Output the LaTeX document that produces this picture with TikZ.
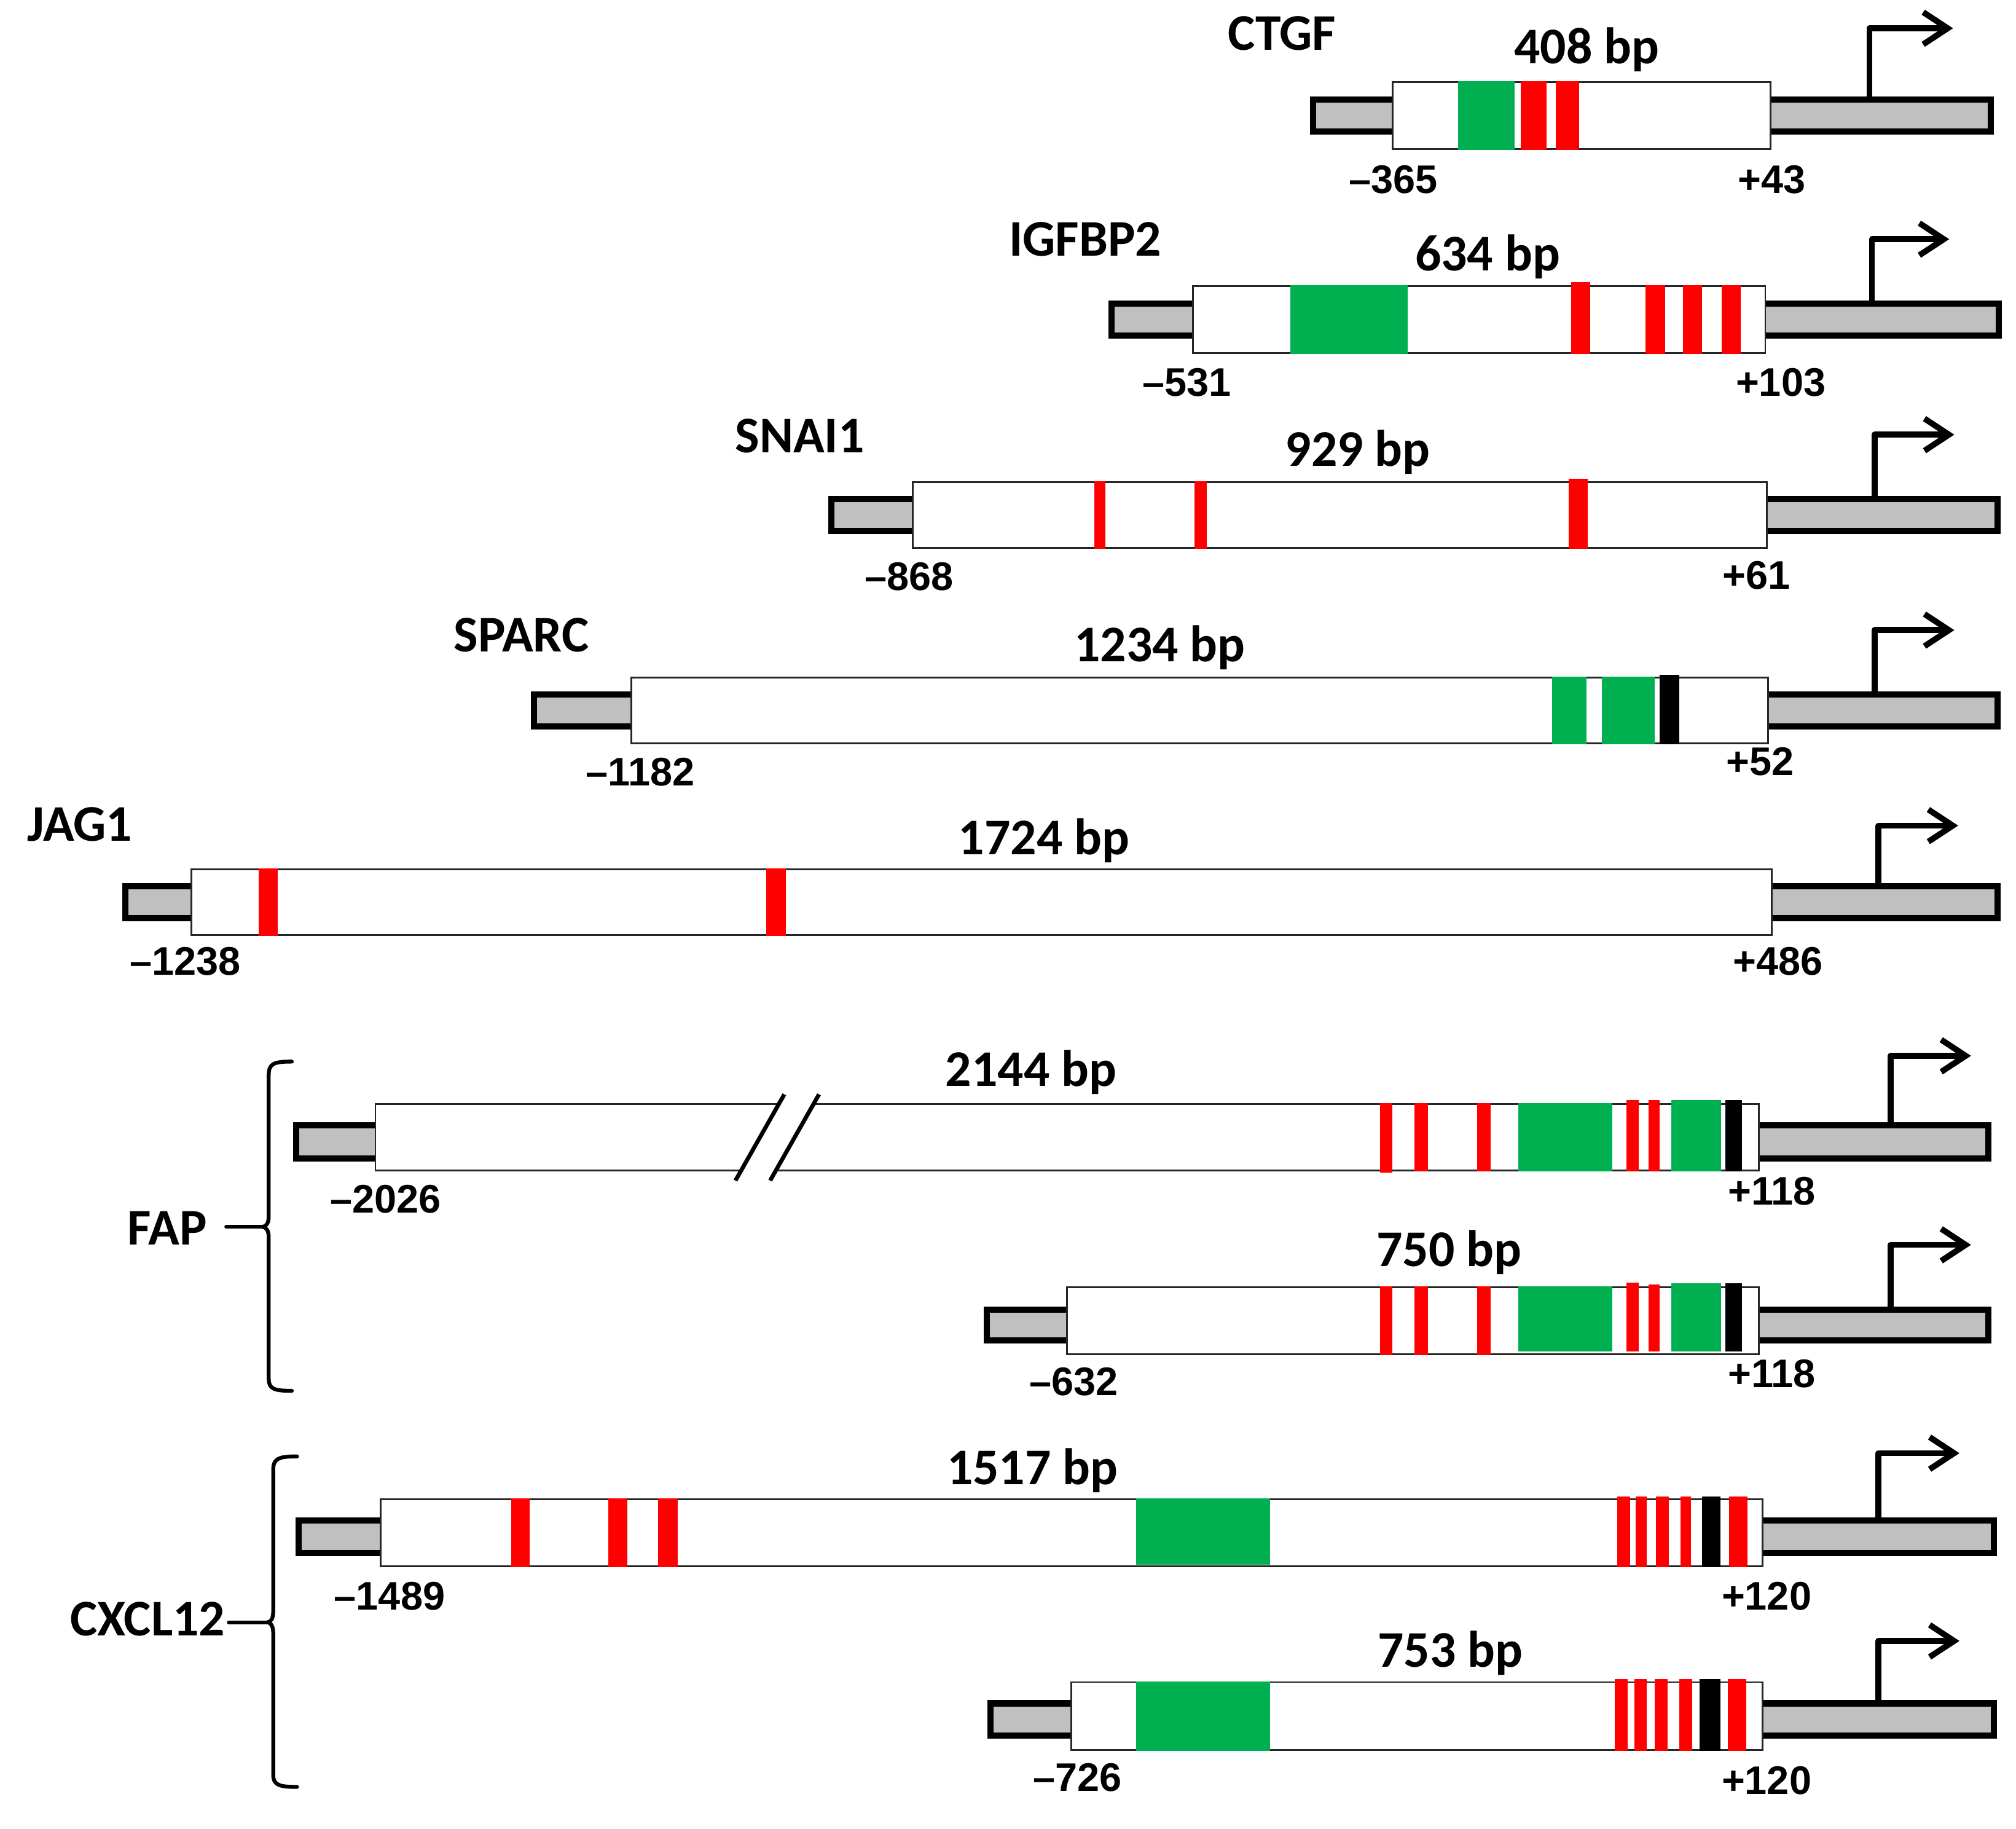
\documentclass[tikz,border=0pt]{standalone}
\usepackage{fontspec}
\newfontfamily\calfont{Carlito}
\newfontfamily\arifont{Liberation Sans}
\usetikzlibrary{arrows.meta}
\definecolor{ggreen}{RGB}{0,176,80}
\definecolor{rred}{RGB}{255,0,0}
\definecolor{bgray}{RGB}{192,192,192}
\begin{document}
\begin{tikzpicture}[x=0.5pt,y=-0.5pt,
  graybar/.style={draw=black,fill=bgray,line width=2.4pt},
  pbox/.style={draw=black!85,fill=white,line width=0.7pt},
  redmark/.style={fill=rred},
  greenmark/.style={fill=ggreen},
  blackmark/.style={fill=black},
  tss/.style={line width=2.3pt,line join=round,-{Straight Barb[length=9.5pt,width=12.5pt]}},
  gname/.style={font=\calfont\bfseries\fontsize{20}{24}\selectfont,anchor=base,inner sep=0pt},
  bplab/.style={font=\calfont\bfseries\fontsize{20}{24}\selectfont,anchor=base,inner sep=0pt},
  poslab/.style={font=\arifont\bfseries\fontsize{15.5}{18}\selectfont,anchor=base,inner sep=0pt},
  brace/.style={line width=1.5pt,line join=round,line cap=round},
  slash/.style={line width=1.6pt}]
\useasboundingbox (0,0) rectangle (1568,1422);

% ---------- CTGF ----------
\draw[graybar] (1021.4,77.5) rectangle (1548.6,102.5);
\draw[pbox] (1083,64) rectangle (1377,116);
\fill[greenmark] (1134,63.3) rectangle (1178,116.7);
\fill[redmark] (1183,63.3) rectangle (1203,116.7);
\fill[redmark] (1210,63.3) rectangle (1228,116.7);
\coordinate (ctgfS) at (1454,77.5);
\coordinate (ctgfT) at (1519,22);
\draw[tss] (ctgfS) |- (ctgfT);
\node[gname] (ctgf) at (997,39) {CTGF};
\node[bplab] (ctgfbp) at (1234,49.5) {408 bp};
\node[poslab] (ctgfl) at (1083.6,150.5) {–365};
\node[poslab] (ctgfr) at (1378,150.5) {+43};

% ---------- IGFBP2 ----------
\draw[graybar] (864.4,236) rectangle (1554.6,261);
\draw[pbox] (928,222.5) rectangle (1373,274.5);
\fill[greenmark] (1003.5,221.8) rectangle (1095,275.2);
\fill[redmark] (1222,219.5) rectangle (1237,275.2);
\fill[redmark] (1280,221.8) rectangle (1295,275.2);
\fill[redmark] (1309,221.8) rectangle (1324,275.2);
\fill[redmark] (1339,221.8) rectangle (1354,275.2);
\coordinate (igfS) at (1456,236);
\coordinate (igfT) at (1516,186);
\draw[tss] (igfS) |- (igfT);
\node[gname] (igf) at (844,199) {IGFBP2};
\node[bplab] (igfbp) at (1157,210.5) {634 bp};
\node[poslab] (igfl) at (923,308) {–531};
\node[poslab] (igfr) at (1385,308) {+103};

% ---------- SNAI1 ----------
\draw[graybar] (646.4,388) rectangle (1553.6,413);
\draw[pbox] (710,375) rectangle (1374,426);
\fill[redmark] (851,374.3) rectangle (859.5,426.7);
\fill[redmark] (929,374.3) rectangle (938.5,426.7);
\fill[redmark] (1220,372.5) rectangle (1235,426.7);
\coordinate (snaS) at (1458,388);
\coordinate (snaT) at (1520,338);
\draw[tss] (snaS) |- (snaT);
\node[gname] (sna) at (622,352) {SNAI1};
\node[bplab] (snabp) at (1056,362.5) {929 bp};
\node[poslab] (snal) at (707,459) {–868};
\node[poslab] (snar) at (1366,458) {+61};

% ---------- SPARC ----------
\draw[graybar] (415.4,540) rectangle (1553.6,565);
\draw[pbox] (491,527) rectangle (1375,578);
\fill[greenmark] (1207,526.3) rectangle (1234,578.7);
\fill[greenmark] (1246,526.3) rectangle (1287,578.7);
\fill[blackmark] (1291,524.5) rectangle (1306,578.7);
\coordinate (spaS) at (1458,540);
\coordinate (spaT) at (1520,490);
\draw[tss] (spaS) |- (spaT);
\node[gname] (spa) at (405.6,506.6) {SPARC};
\node[bplab] (spabp) at (902,514.5) {1234 bp};
\node[poslab] (spal) at (498,610.8) {–1182};
\node[poslab] (spar) at (1369,603) {+52};

% ---------- JAG1 ----------
\draw[graybar] (97.4,689) rectangle (1553.6,714);
\draw[pbox] (149,676) rectangle (1378,727);
\fill[redmark] (201,675.3) rectangle (216,727.7);
\fill[redmark] (596,675.3) rectangle (611,727.7);
\coordinate (jagS) at (1461,689);
\coordinate (jagT) at (1523,642);
\draw[tss] (jagS) |- (jagT);
\node[gname] (jag) at (62,654) {JAG1};
\node[bplab] (jagbp) at (812,664.5) {1724 bp};
\node[poslab] (jagl) at (144,758) {–1238};
\node[poslab] (jagr) at (1383,758) {+486};

% ---------- FAP (long) ----------
\draw[graybar] (230.4,875) rectangle (1546.6,901);
\draw[pbox] (292,858.5) rectangle (1368,910);
\fill[white] (575.4,912) -- (607.2,856) -- (634.2,856) -- (602.4,912) -- cycle;
\coordinate (sl1a) at (572,918); \coordinate (sl1b) at (610,851);
\coordinate (sl2a) at (599,918); \coordinate (sl2b) at (637,851);
\draw[slash] (sl1a) -- (sl1b);
\draw[slash] (sl2a) -- (sl2b);
\fill[redmark] (1073.5,857.8) rectangle (1083,912);
\fill[redmark] (1100,857.8) rectangle (1110.5,910.7);
\fill[redmark] (1149,857.8) rectangle (1159.5,910.7);
\fill[greenmark] (1181,857.8) rectangle (1254,910.7);
\fill[redmark] (1265,855.5) rectangle (1274.5,910.7);
\fill[redmark] (1282,855.5) rectangle (1291,910.7);
\fill[greenmark] (1300,855.5) rectangle (1338.6,910.7);
\fill[blackmark] (1342,855.5) rectangle (1355,910.7);
\coordinate (fapaS) at (1470.5,875);
\coordinate (fapaT) at (1533,821);
\draw[tss] (fapaS) |- (fapaT);
\node[bplab] (fapabp) at (802,844.5) {2144 bp};
\node[poslab] (fapal) at (300,943) {–2026};
\node[poslab] (fapar) at (1378,937) {+118};

% ---------- FAP (short) ----------
\draw[graybar] (767.4,1018.5) rectangle (1546.6,1042.5);
\draw[pbox] (830,1001) rectangle (1368,1053);
\fill[redmark] (1073.5,1000.3) rectangle (1083,1053.7);
\fill[redmark] (1100,1000.3) rectangle (1110.5,1053.7);
\fill[redmark] (1149,1000.3) rectangle (1159.5,1053.7);
\fill[greenmark] (1181,1000.3) rectangle (1254,1051);
\fill[redmark] (1265,997.5) rectangle (1274.5,1051);
\fill[redmark] (1282,999) rectangle (1291,1051);
\fill[greenmark] (1300,998) rectangle (1338.6,1051);
\fill[blackmark] (1342,998) rectangle (1355,1051);
\coordinate (fapbS) at (1470.5,1018.5);
\coordinate (fapbT) at (1533,968);
\draw[tss] (fapbS) |- (fapbT);
\node[bplab] (fapbbp) at (1127,984.5) {750 bp};
\node[poslab] (fapbl) at (835,1085) {–632};
\node[poslab] (fapbr) at (1378,1079) {+118};

% ---------- FAP brace ----------
\node[gname] (fap) at (130,968) {FAP};
\coordinate (fapL) at (176,954);
\coordinate (fapTip) at (204,954);
\draw[brace] (fapL) -- (fapTip);
\draw[brace] (227,825.5) .. controls (213,825.5) and (209,827) .. (209,836)
  -- (209,946) .. controls (209,951) and (207,954) .. (fapTip)
  .. controls (207,954) and (209,957) .. (209,962)
  -- (209,1072) .. controls (209,1080) and (213,1081.5) .. (227,1081.5);

% ---------- CXCL12 (long) ----------
\draw[graybar] (232.4,1182.5) rectangle (1550.6,1207.5);
\draw[pbox] (296,1166) rectangle (1371,1218);
\fill[redmark] (397.5,1165.3) rectangle (412,1218.7);
\fill[redmark] (473,1165.3) rectangle (488,1218.7);
\fill[redmark] (512,1165.3) rectangle (527,1218.7);
\fill[greenmark] (883.5,1165.3) rectangle (988,1216.5);
\fill[redmark] (1258,1163.5) rectangle (1268,1218.7);
\fill[redmark] (1272,1163.5) rectangle (1281,1218.7);
\fill[redmark] (1288,1163.5) rectangle (1298,1218.7);
\fill[redmark] (1307,1163.5) rectangle (1315,1218.7);
\fill[blackmark] (1324,1163.5) rectangle (1338,1218.7);
\fill[redmark] (1345,1163.5) rectangle (1359,1218.7);
\coordinate (cxaS) at (1461,1182.5);
\coordinate (cxaT) at (1524,1130);
\draw[tss] (cxaS) |- (cxaT);
\node[bplab] (cxabp) at (803,1154.5) {1517 bp};
\node[poslab] (cxal) at (303,1252) {–1489};
\node[poslab] (cxar) at (1374,1252) {+120};

% ---------- CXCL12 (short) ----------
\draw[graybar] (770.4,1324.5) rectangle (1550.6,1349.5);
\draw[pbox] (833,1308) rectangle (1371,1361);
\fill[greenmark] (883.5,1307.3) rectangle (988,1361.7);
\fill[redmark] (1256,1305.5) rectangle (1266,1361.7);
\fill[redmark] (1271,1305.5) rectangle (1281,1361.7);
\fill[redmark] (1287,1305.5) rectangle (1297,1361.7);
\fill[redmark] (1306,1305.5) rectangle (1316,1361.7);
\fill[blackmark] (1322,1305.5) rectangle (1338,1361.7);
\fill[redmark] (1344,1305.5) rectangle (1358,1361.7);
\coordinate (cxbS) at (1461,1324.5);
\coordinate (cxbT) at (1524,1276);
\draw[tss] (cxbS) |- (cxbT);
\node[bplab] (cxbbp) at (1128,1296.5) {753 bp};
\node[poslab] (cxbl) at (838,1393) {–726};
\node[poslab] (cxbr) at (1374,1395) {+120};

% ---------- CXCL12 brace ----------
\node[gname] (cxcl) at (114.8,1272) {CXCL12};
\coordinate (cxL) at (178,1261.5);
\coordinate (cxTip) at (208,1261.5);
\draw[brace] (cxL) -- (cxTip);
\draw[brace] (231,1132.5) .. controls (217,1132.5) and (212.5,1134) .. (212.5,1143)
  -- (212.5,1253.5) .. controls (212.5,1258.5) and (210.5,1261.5) .. (cxTip)
  .. controls (210.5,1261.5) and (212.5,1264.5) .. (212.5,1269.5)
  -- (212.5,1380) .. controls (212.5,1388) and (217,1389.5) .. (231,1389.5);
\end{tikzpicture}
\end{document}
